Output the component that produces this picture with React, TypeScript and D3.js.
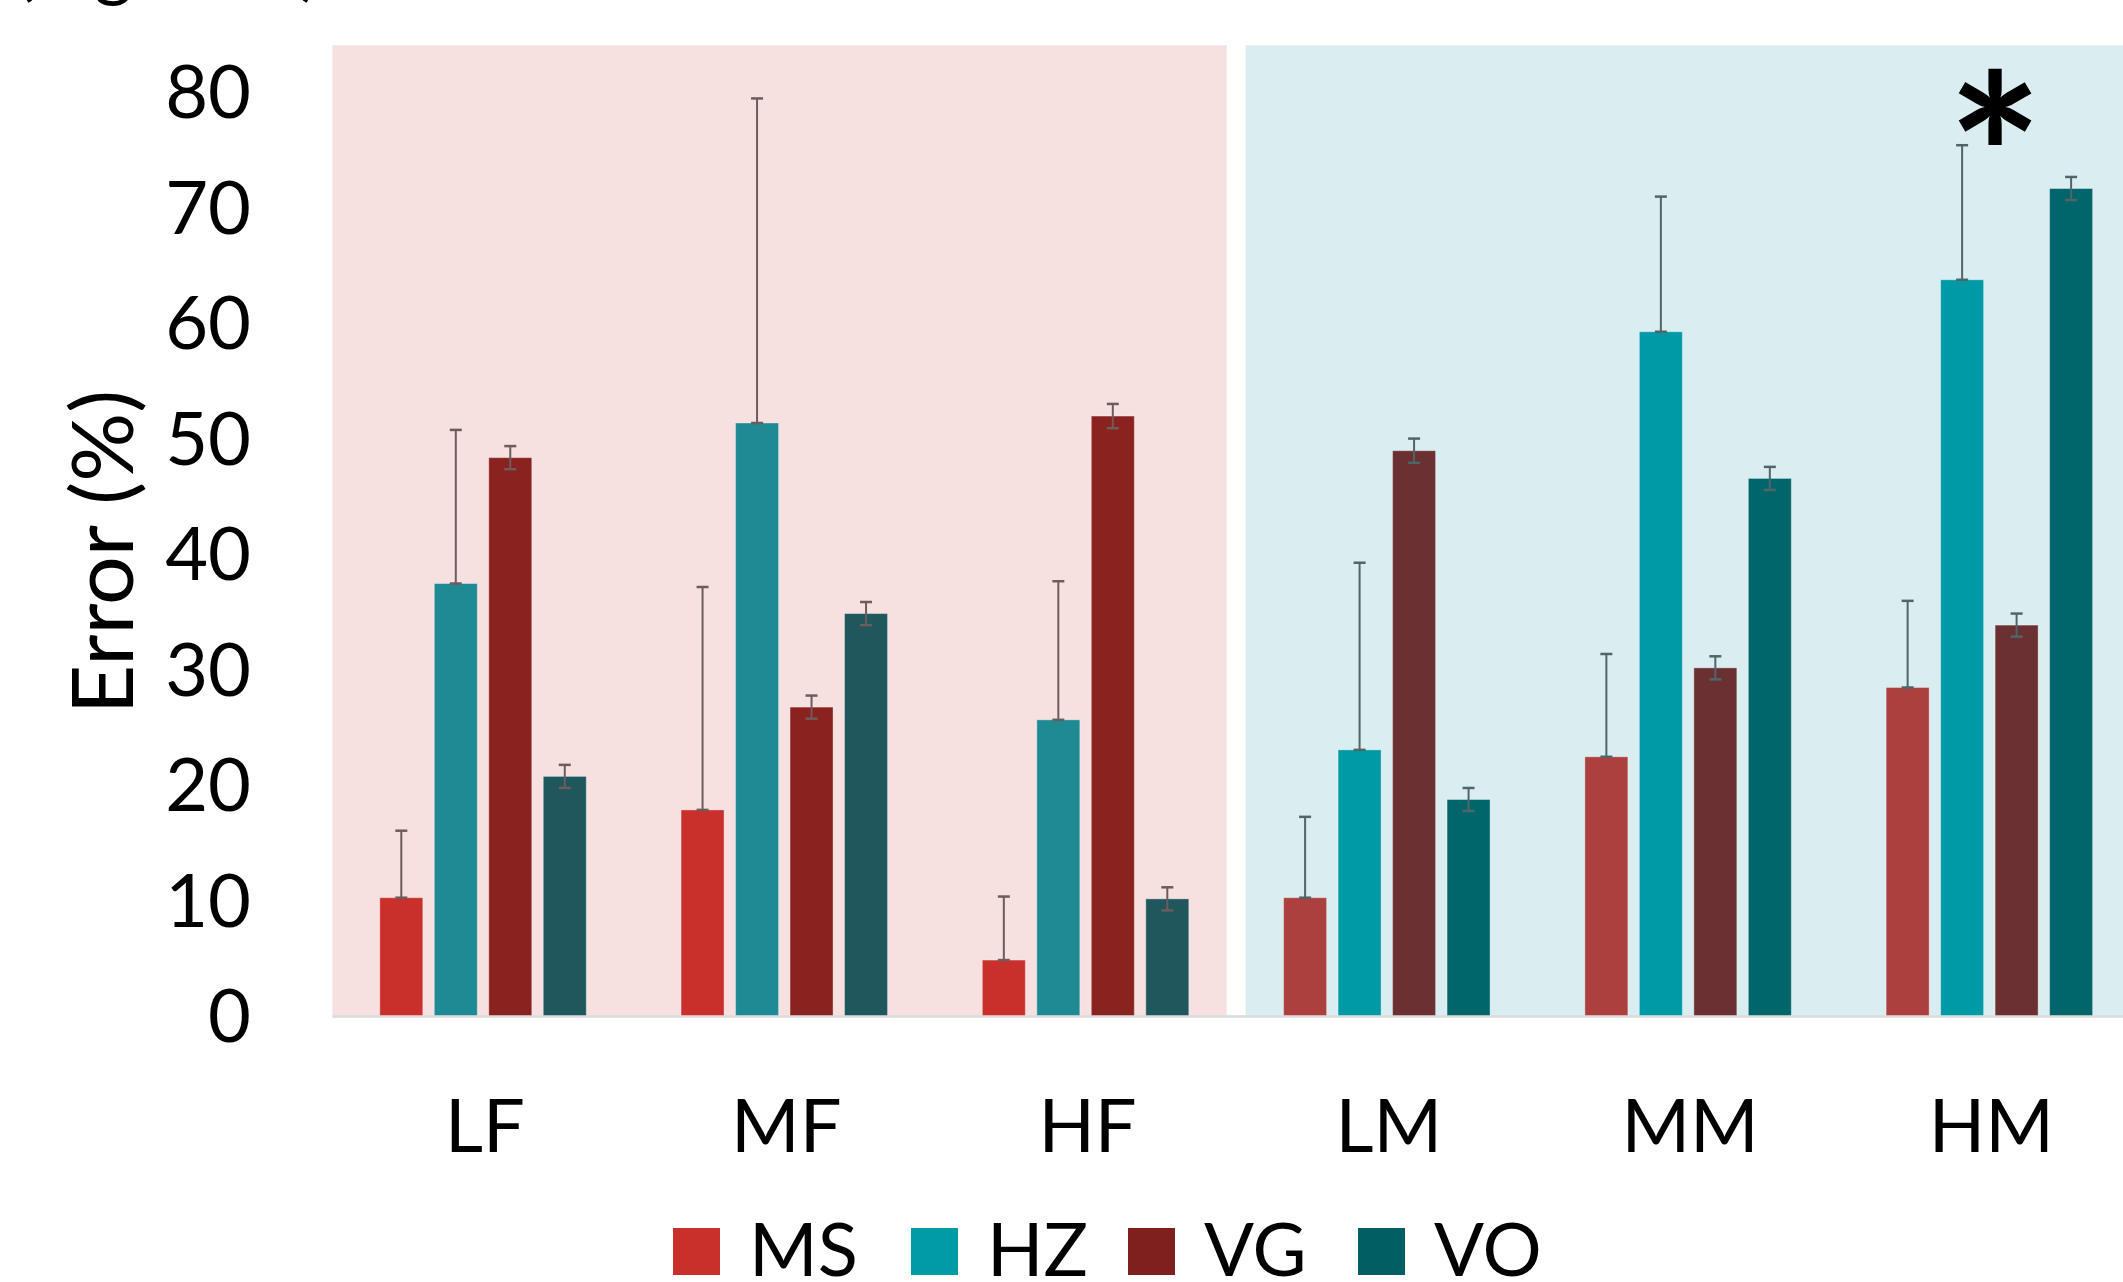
import React from "react";
import * as d3 from "d3";

const categories = ["LF", "MF", "HF", "LM", "MM", "HM"];
const seriesNames = ["MS", "HZ", "VG", "VO"];
const msValues = [10.2, 17.8, 4.8, 10.2, 22.4, 28.4];
const hzValues = [37.4, 51.3, 25.6, 23.0, 59.2, 63.7];
const vgValues = [48.3, 26.7, 51.9, 48.9, 30.1, 33.8];
const voValues = [20.7, 34.8, 10.1, 18.7, 46.5, 71.6];
const msErrUp = [5.8, 19.3, 5.5, 7.0, 8.9, 7.5];
const msErrDown = [0, 0, 0, 0, 0, 0];
const hzErrUp = [13.3, 28.1, 12.0, 16.2, 11.7, 11.65];
const hzErrDown = [0, 0, 0, 0, 0, 0];
const vgErr = [1.0, 1.0, 1.05, 1.05, 1.0, 1.0];
const voErr = [1.0, 1.0, 1.0, 1.0, 1.0, 1.0];
const yTicks = [0, 10, 20, 30, 40, 50, 60, 70, 80];
const fCategories = ["LF", "MF", "HF"];
const mCategories = ["LM", "MM", "HM"];
const fColors = ["#C9302C", "#1F8A93", "#8A2220", "#1F575C"];
const mColors = ["#AC403E", "#009AA6", "#6B3031", "#00666C"];
const legendColors = ["#C9302C", "#009BA6", "#80201E", "#015F63"];
const significantCategory = "HM";
const significantSeries = "HZ";

const W = 2123;
const H = 1282;
const FONT = "Lato, 'Open Sans', sans-serif";

export default function App() {
  const x0 = d3.scaleBand<string>().domain(categories).range([332.4, 2140]).padding(0);
  const x1 = d3
    .scaleBand<string>()
    .domain(seriesNames)
    .range([0, x0.bandwidth()])
    .paddingInner(0.211)
    .paddingOuter(0.87);
  const y = d3.scaleLinear().domain([0, 80]).range([1015.5, 91.5]);

  const rows = categories.map((c, i) => ({
    cat: c,
    values: [msValues[i], hzValues[i], vgValues[i], voValues[i]],
    up: [msErrUp[i], hzErrUp[i], vgErr[i], voErr[i]],
    down: [msErrDown[i], hzErrDown[i], vgErr[i], voErr[i]],
    isF: fCategories.includes(c),
  }));

  const panelTop = y(84);
  const gap = 9.5;
  const fStart = x0(fCategories[0])!;
  const fEnd = x0(fCategories[fCategories.length - 1])! + x0.bandwidth();
  const mEnd = x0(mCategories[mCategories.length - 1])! + x0.bandwidth();
  const bw = x1.bandwidth();
  const capW = 12;

  const legendX = [673, 911, 1128, 1358];

  const sigI = categories.indexOf(significantCategory);
  const sigX = x0(significantCategory)! + x1(significantSeries)! + bw / 2 + 33;
  const sigY = y(hzValues[sigI] + hzErrUp[sigI]);

  return (
    <svg
      width={W}
      height={H}
      style={{ position: "absolute", left: 0, top: 0, background: "#fff" }}
      fontFamily={FONT}
    >
      <text x={15} y={-8} fontSize={74} fill="#000">
        (Figure 5)
      </text>
      <rect x={fStart} y={panelTop} width={fEnd - gap - fStart} height={y(0) - panelTop} fill="#F6E0E0" />
      <rect x={fEnd + gap} y={panelTop} width={mEnd - fEnd - gap} height={y(0) - panelTop} fill="#DAEEF1" />
      <line x1={fStart} x2={W} y1={y(0) + 1} y2={y(0) + 1} stroke="#D9D9D9" strokeWidth={2.5} />

      {rows.map((r) => (
        <g key={r.cat} transform={`translate(${x0(r.cat)},0)`}>
          {seriesNames.map((s, j) => {
            const v = r.values[j];
            const color = r.isF ? fColors[j] : mColors[j];
            const ec = r.isF ? "#6E5C5C" : "#4E6668";
            const cx = x1(s)! + bw / 2;
            const yt = y(v + r.up[j]);
            const yb = y(v - r.down[j]);
            return (
              <g key={s}>
                <rect
                  x={x1(s)}
                  y={y(v)}
                  width={bw}
                  height={y(0) - y(v)}
                  fill={color}
                  stroke="#ffffff"
                  strokeOpacity={0.35}
                  strokeWidth={1}
                />
                <line x1={cx} x2={cx} y1={yt} y2={yb} stroke={ec} strokeWidth={2} />
                <line x1={cx - capW / 2} x2={cx + capW / 2} y1={yt} y2={yt} stroke={ec} strokeWidth={2.5} />
                <line x1={cx - capW / 2} x2={cx + capW / 2} y1={yb} y2={yb} stroke={ec} strokeWidth={2.5} />
              </g>
            );
          })}
        </g>
      ))}

      {yTicks.map((t) => (
        <text key={t} x={251} y={y(t)} dy="0.36em" textAnchor="end" fontSize={74} fill="#000">
          {t}
        </text>
      ))}

      <text
        transform={`translate(133,552) rotate(-90)`}
        textAnchor="middle"
        fontSize={86}
        fill="#000"
      >
        Error (%)
      </text>

      {categories.map((c) => (
        <text key={c} x={x0(c)! + x0.bandwidth() / 2 + 2} y={1152} textAnchor="middle" fontSize={74} fill="#000">
          {c}
        </text>
      ))}

      <text x={sigX} y={sigY + 94} textAnchor="middle" fontSize={225} fontWeight="bold" fill="#000">
        *
      </text>

      {seriesNames.map((s, i) => (
        <g key={s}>
          <rect x={legendX[i]} y={1228} width={47} height={47} fill={legendColors[i]} />
          <text x={legendX[i] + 76} y={1276} fontSize={74} fill="#000">
            {s}
          </text>
        </g>
      ))}
    </svg>
  );
}
